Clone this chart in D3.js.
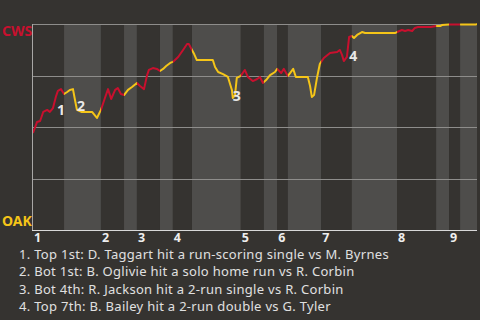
<!DOCTYPE html>
<html>
<head>
<meta charset="utf-8">
<script src="https://cdn.jsdelivr.net/npm/d3@7"></script>
<style>
  html, body { margin: 0; padding: 0; background: #353330; }
  svg { display: block; }
  text { font-family: "Noto Sans", "Open Sans", sans-serif; }
</style>
</head>
<body>
<script>
// ---- data ----
// game progress (% of game elapsed) and CWS win probability
const gameProgress = [0, 0.9, 1.6, 2.3, 3.2, 3.8, 4.5, 5.2, 5.6, 6.3, 7.0,
  7.7, 8.3, 9.0, 9.5, 9.9, 11.0, 13.3, 14.4, 15.3,
  16.2, 16.9, 17.6, 18.5, 19.1, 19.8, 20.5,
  21.4, 22.3, 23.4,
  24.1, 25.0, 25.7, 26.1, 27.0, 27.9, 28.6,
  29.3, 30.0, 30.9, 31.5,
  32.7, 33.8, 34.7, 35.1, 35.8,
  36.3, 36.9, 40.5, 41.0, 41.7, 42.8, 43.9, 44.8, 45.0, 45.5, 45.9, 46.8,
  47.7, 48.4, 49.5, 50.5, 51.1, 51.8, 52.0,
  52.5, 53.4, 54.5, 55.0,
  55.9, 56.5, 57.4,
  57.9, 58.6, 59.2, 61.9, 62.4, 62.8, 63.3, 64.0, 64.6, 64.9,
  65.5, 66.9, 68.5, 69.1, 69.6, 70.0, 70.7, 71.2, 71.8,
  72.3, 73.0, 74.1, 74.8, 81.5, 82.0,
  83.1, 83.8, 84.5, 85.4, 86.0, 86.7, 89.6, 90.8,
  91.7, 92.1, 93.7,
  96.2,
  99.8, 100];
const cwsWinProb = [0.471, 0.524, 0.529, 0.573, 0.583, 0.573, 0.592, 0.650, 0.675, 0.684, 0.660,
  0.670, 0.680, 0.684, 0.626, 0.583, 0.573, 0.573, 0.544, 0.583,
  0.641, 0.684, 0.636, 0.680, 0.689, 0.660, 0.655,
  0.680, 0.694, 0.714,
  0.699, 0.684, 0.752, 0.777, 0.786, 0.782, 0.772,
  0.782, 0.796, 0.811, 0.816,
  0.840, 0.874, 0.903, 0.903, 0.874,
  0.854, 0.825, 0.825, 0.791, 0.767, 0.757, 0.743, 0.680, 0.641, 0.655, 0.738, 0.748,
  0.777, 0.743, 0.723, 0.733, 0.743, 0.714, 0.718,
  0.728, 0.752, 0.767, 0.782,
  0.762, 0.782, 0.748,
  0.762, 0.782, 0.743, 0.743, 0.699, 0.646, 0.655, 0.743, 0.806, 0.816,
  0.835, 0.859, 0.864, 0.874, 0.850, 0.820, 0.840, 0.937, 0.942,
  0.932, 0.947, 0.961, 0.956, 0.956, 0.961,
  0.971, 0.966, 0.971, 0.966, 0.981, 0.985, 0.985, 0.990,
  0.990, 0.995, 0.998,
  0.998,
  0.998, 1.0];
// half-inning boundaries (game progress %), alternating top / bottom
const halfInningStarts = [0, 7.0, 15.3, 20.5, 23.4, 28.6, 31.5, 35.8, 46.8, 52.0,
  55.0, 57.4, 64.9, 71.8, 82.0, 90.8, 93.7, 96.2];
const gameEnd = 100;
const inningLabels = ["1", "2", "3", "4", "5", "6", "7", "8", "9"];
const yGrid = [0.25, 0.5, 0.75, 1.0];
const teams = ["CWS", "OAK"];
const teamColors = ["#c8102e", "#f5c518"];
const annLabels = ["1", "2", "3", "4"];
const annProgress = [5.4, 9.9, 45.0, 71.2];
const annProb = [0.558, 0.578, 0.626, 0.820];
const notes = [
  "1. Top 1st: D. Taggart hit a run-scoring single vs M. Byrnes",
  "2. Bot 1st: B. Oglivie hit a solo home run vs R. Corbin",
  "3. Bot 4th: R. Jackson hit a 2-run single vs R. Corbin",
  "4. Top 7th: B. Bailey hit a 2-run double vs G. Tyler"
];

// ---- layout ----
const W = 480, H = 320;
const m = {left: 33, right: 3, top: 24, bottom: 90};
const x = d3.scaleLinear().domain([0, gameEnd]).range([m.left, W - m.right]);
const y = d3.scaleLinear().domain([0, 1]).range([H - m.bottom, m.top]);

const svg = d3.select("body").append("svg").attr("width", W).attr("height", H);
svg.append("rect").attr("width", W).attr("height", H).attr("fill", "#353330");

const halves = halfInningStarts.map((s, i) => ({
  start: s,
  end: i + 1 < halfInningStarts.length ? halfInningStarts[i + 1] : gameEnd,
  top: i % 2 === 0,
  inning: Math.floor(i / 2)
}));

// bands
svg.append("g").selectAll("rect").data(halves).join("rect")
  .attr("x", d => x(d.start)).attr("width", d => x(d.end) - x(d.start))
  .attr("y", y(1)).attr("height", y(0) - y(1))
  .attr("fill", d => d.top ? "#353330" : "#4e4d4b");

// gridlines
svg.append("g").selectAll("line").data(yGrid).join("line")
  .attr("x1", x(0)).attr("x2", x(gameEnd))
  .attr("y1", d => Math.round(y(d)) + 0.5).attr("y2", d => Math.round(y(d)) + 0.5)
  .attr("stroke", "#8e8d8b").attr("stroke-width", 1);

// clip paths for top/bottom halves
const defs = svg.append("defs");
[true, false].forEach((isTop, k) => {
  defs.append("clipPath").attr("id", "clip" + k)
    .selectAll("rect").data(halves.filter(h => h.top === isTop)).join("rect")
    .attr("x", d => x(d.start)).attr("width", d => x(d.end) - x(d.start))
    .attr("y", 0).attr("height", H);
});

const pts = gameProgress.map((g, i) => [g, cwsWinProb[i]]);
const line = d3.line().x(d => x(d[0])).y(d => y(d[1]));
[0, 1].forEach(k => {
  svg.append("path").datum(pts)
    .attr("d", line)
    .attr("fill", "none")
    .attr("stroke", teamColors[k])
    .attr("stroke-width", 2)
    .attr("stroke-linejoin", "round")
    .attr("clip-path", "url(#clip" + k + ")");
});

// axes lines
svg.append("line").attr("x1", x(0) - 0.5).attr("x2", x(0) - 0.5)
  .attr("y1", y(1)).attr("y2", y(0)).attr("stroke", "#a8a7a5");
svg.append("line").attr("x1", x(0) - 1).attr("x2", x(gameEnd))
  .attr("y1", y(0) + 0.5).attr("y2", y(0) + 0.5).attr("stroke", "#d8d8d8");

// annotations
svg.append("g").selectAll("text").data(annLabels).join("text")
  .attr("x", (d, i) => x(annProgress[i]))
  .attr("y", (d, i) => y(annProb[i]))
  .attr("fill", "#e8e8e8").attr("font-weight", "bold").attr("font-size", 14)
  .text(d => d);

// team labels
svg.append("text").attr("x", 2).attr("y", 36)
  .attr("fill", teamColors[0]).attr("font-weight", "bold").attr("font-size", 14).text(teams[0]);
svg.append("text").attr("x", 2).attr("y", 226)
  .attr("fill", teamColors[1]).attr("font-weight", "bold").attr("font-size", 14).text(teams[1]);

// inning labels
svg.append("g").selectAll("text").data(halves.filter(h => h.top)).join("text")
  .attr("x", d => x(d.start) + 1).attr("y", 242)
  .attr("fill", "#eeeeee").attr("font-weight", "bold").attr("font-size", 12.5)
  .text(d => inningLabels[d.inning]);

// notes
svg.append("g").selectAll("text").data(notes).join("text")
  .attr("x", 19).attr("y", (d, i) => 259 + i * 17.4)
  .attr("fill", "#e0e0e0").attr("font-size", 13).attr("letter-spacing", 0.3)
  .text(d => d);
</script>
</body>
</html>
